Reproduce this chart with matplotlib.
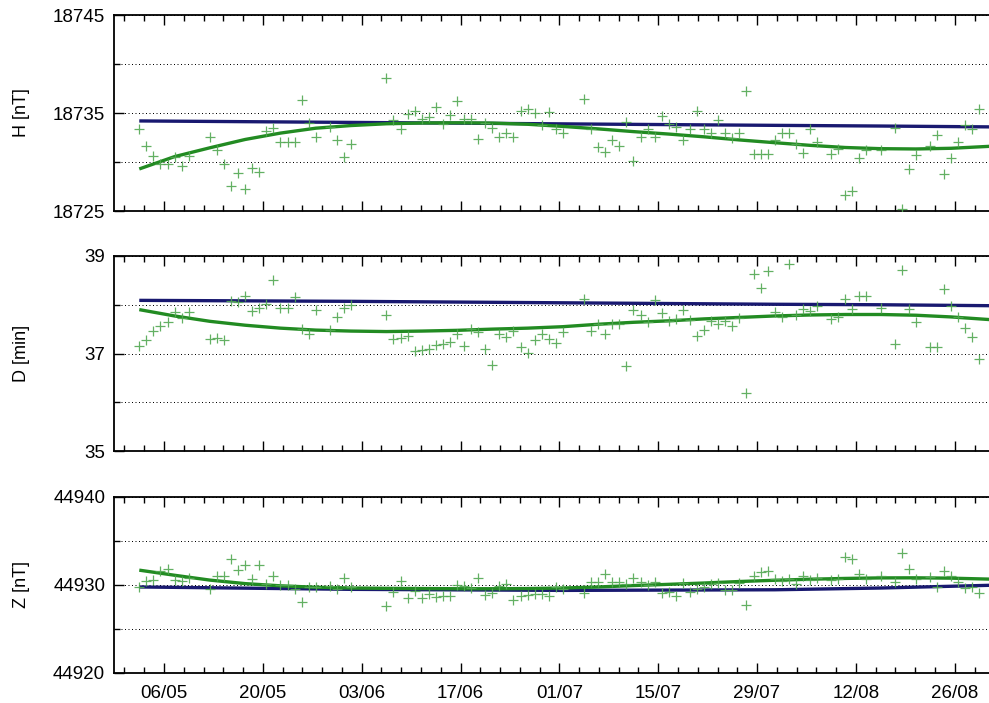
import numpy as np
import pandas as pd
import matplotlib
matplotlib.use("Agg")
import matplotlib.pyplot as plt
import matplotlib.dates as mdates
from matplotlib.ticker import FixedLocator, NullFormatter

plt.rcParams['font.family'] = ['Liberation Sans', 'DejaVu Sans']

# ---------------- data ----------------
obs_dates = [
    "2013-05-02", "2013-05-03", "2013-05-04", "2013-05-05", "2013-05-06", "2013-05-07", "2013-05-08", "2013-05-09",
    "2013-05-12", "2013-05-13", "2013-05-14", "2013-05-15", "2013-05-16", "2013-05-17", "2013-05-18", "2013-05-19",
    "2013-05-20", "2013-05-21", "2013-05-22", "2013-05-23", "2013-05-24", "2013-05-25", "2013-05-26", "2013-05-27",
    "2013-05-29", "2013-05-30", "2013-05-31", "2013-06-01",
    "2013-06-06", "2013-06-07", "2013-06-08", "2013-06-09", "2013-06-10", "2013-06-11", "2013-06-12", "2013-06-13",
    "2013-06-14", "2013-06-15", "2013-06-16", "2013-06-17", "2013-06-18", "2013-06-19", "2013-06-20", "2013-06-21",
    "2013-06-22", "2013-06-23", "2013-06-24", "2013-06-25", "2013-06-26", "2013-06-27", "2013-06-28", "2013-06-29",
    "2013-06-30", "2013-07-01",
    "2013-07-04", "2013-07-05", "2013-07-06", "2013-07-07", "2013-07-08", "2013-07-09", "2013-07-10", "2013-07-11",
    "2013-07-12", "2013-07-13", "2013-07-14", "2013-07-15", "2013-07-16", "2013-07-17", "2013-07-18", "2013-07-19",
    "2013-07-20", "2013-07-21", "2013-07-22", "2013-07-23", "2013-07-24", "2013-07-25", "2013-07-26", "2013-07-27",
    "2013-07-28", "2013-07-29", "2013-07-30", "2013-07-31", "2013-08-01", "2013-08-02", "2013-08-03", "2013-08-04",
    "2013-08-05", "2013-08-06",
    "2013-08-08", "2013-08-09", "2013-08-10", "2013-08-11", "2013-08-12", "2013-08-13",
    "2013-08-15",
    "2013-08-17", "2013-08-18", "2013-08-19", "2013-08-20",
    "2013-08-22", "2013-08-23", "2013-08-24", "2013-08-25", "2013-08-26", "2013-08-27", "2013-08-28", "2013-08-29",
]

H_obs = [
    18733.34, 18731.66, 18730.64, 18729.83, 18729.83, 18730.51, 18729.56, 18730.57,
    18732.60, 18731.18, 18729.83, 18727.60, 18728.89, 18727.26, 18729.43, 18728.95,
    18733.21, 18733.48, 18732.00, 18732.00, 18732.00, 18736.32, 18733.95, 18732.53,
    18733.60, 18732.20, 18730.51, 18731.79,
    18738.61, 18734.29, 18733.34, 18734.90, 18735.24, 18734.43, 18734.63, 18735.57,
    18733.89, 18734.76, 18736.25, 18734.36, 18734.43, 18732.33, 18734.02, 18733.48,
    18732.53, 18732.94, 18732.53, 18735.17, 18735.44, 18735.03, 18733.75, 18735.10,
    18733.34, 18732.94,
    18736.39, 18733.41, 18731.52, 18730.98, 18732.26, 18731.66, 18734.09, 18730.10,
    18732.53, 18733.34, 18732.60, 18734.70, 18733.89, 18733.61, 18732.26, 18733.34,
    18735.24, 18733.34, 18733.00, 18734.29, 18732.94, 18732.40, 18733.00, 18737.20,
    18730.84, 18730.84, 18730.84, 18732.20, 18732.94, 18732.94, 18731.79, 18730.91,
    18733.34, 18732.00,
    18730.78, 18731.32, 18726.66, 18727.06, 18730.44, 18731.25,
    18731.25,
    18733.48, 18725.17, 18729.29, 18730.71,
    18731.66, 18732.80, 18728.75, 18730.44, 18732.00, 18733.75, 18733.41, 18735.44,
]

D_obs = [
    37.16, 37.28, 37.47, 37.57, 37.64, 37.86, 37.72, 37.86,
    37.29, 37.32, 37.28, 38.07, 38.05, 38.18, 37.87, 37.94,
    38.01, 38.51, 37.94, 37.94, 38.16, 37.51, 37.41, 37.89,
    37.48, 37.74, 37.94, 37.99,
    37.80, 37.29, 37.32, 37.36, 37.05, 37.07, 37.10, 37.17,
    37.20, 37.24, 37.39, 37.16, 37.51, 37.44, 37.10, 36.76,
    37.40, 37.34, 37.47, 37.14, 37.02, 37.28, 37.41, 37.30,
    37.21, 37.45,
    38.11, 37.47, 37.60, 37.41, 37.60, 37.60, 36.74, 37.89,
    37.78, 37.64, 38.10, 37.83, 37.67, 37.71, 37.90, 37.68,
    37.36, 37.48, 37.67, 37.60, 37.66, 37.57, 37.72, 36.18,
    38.64, 38.34, 38.70, 37.86, 37.74, 38.84, 37.80, 37.91,
    37.87, 37.97,
    37.70, 37.75, 38.11, 37.91, 38.17, 38.17,
    37.94,
    37.20, 38.72, 37.91, 37.64,
    37.14, 37.13, 38.33, 37.98, 37.75, 37.53, 37.33, 36.89,
]

Z_obs = [
    44929.66, 44930.42, 44930.49, 44931.55, 44931.78, 44930.49, 44930.42, 44930.72,
    44929.51, 44930.95, 44930.95, 44932.92, 44931.63, 44932.23, 44930.57, 44932.23,
    44930.04, 44930.95, 44929.89, 44929.96, 44929.51, 44928.00, 44929.73, 44929.73,
    44929.80, 44929.51, 44930.72, 44929.73,
    44927.61, 44929.20, 44930.42, 44928.52, 44929.28, 44928.52, 44928.90, 44928.60,
    44928.67, 44928.67, 44929.96, 44929.81, 44929.58, 44930.72, 44928.83, 44928.98,
    44929.81, 44930.11, 44928.22, 44928.67, 44928.83, 44928.90, 44928.90, 44928.67,
    44929.66, 44929.51,
    44928.98, 44930.27, 44930.27, 44931.25, 44930.27, 44930.34, 44930.04, 44930.72,
    44930.27, 44929.96, 44930.27, 44928.98, 44929.20, 44928.67, 44930.19, 44929.13,
    44929.51, 44929.66, 44930.04, 44930.19, 44929.43, 44929.43, 44930.19, 44927.69,
    44930.95, 44931.40, 44931.55, 44930.64, 44930.42, 44930.64, 44930.04, 44930.95,
    44930.49, 44930.72,
    44930.49, 44930.57, 44933.14, 44932.92, 44931.17, 44930.64,
    44930.95,
    44930.27, 44933.60, 44931.78, 44930.64,
    44930.80, 44929.66, 44931.55, 44931.02, 44930.27, 44929.58, 44929.73, 44928.98,
]

# smooth fitted curve (green), read at ~5-day steps
fit_dates = [
    "2013-05-02", "2013-05-07", "2013-05-12", "2013-05-17", "2013-05-22", "2013-05-27",
    "2013-06-01", "2013-06-06", "2013-06-11", "2013-06-16", "2013-06-21", "2013-06-26",
    "2013-07-01", "2013-07-06", "2013-07-11", "2013-07-16", "2013-07-21", "2013-07-26",
    "2013-07-31", "2013-08-05", "2013-08-10", "2013-08-15", "2013-08-20", "2013-08-25",
    "2013-08-31",
]
H_fit = [18729.29, 18730.55, 18731.45, 18732.30, 18732.95, 18733.45, 18733.72, 18733.90,
         18733.98, 18734.00, 18733.97, 18733.85, 18733.63, 18733.38, 18733.10, 18732.85,
         18732.57, 18732.25, 18731.97, 18731.70, 18731.48, 18731.36, 18731.33, 18731.40,
         18731.62]
D_fit = [37.90, 37.77, 37.66, 37.58, 37.52, 37.48, 37.46, 37.45, 37.46, 37.475, 37.50, 37.52,
         37.55, 37.60, 37.64, 37.67, 37.71, 37.74, 37.77, 37.79, 37.80, 37.80, 37.785, 37.75,
         37.69]
Z_fit = [44931.63, 44931.05, 44930.50, 44930.10, 44929.85, 44929.69, 44929.60, 44929.56,
         44929.54, 44929.52, 44929.52, 44929.54, 44929.60, 44929.72, 44929.88, 44930.02,
         44930.17, 44930.34, 44930.48, 44930.60, 44930.69, 44930.75, 44930.76, 44930.72,
         44930.60]

# reference (blue) line
ref_dates = ["2013-05-02", "2013-06-01", "2013-07-01", "2013-07-31", "2013-08-15", "2013-08-31"]
H_ref = [18734.19, 18734.04, 18733.89, 18733.74, 18733.67, 18733.58]
D_ref = [38.09, 38.07, 38.04, 38.01, 38.00, 37.98]
Z_ref = [44929.72, 44929.45, 44929.33, 44929.40, 44929.60, 44929.92]

# axis ticks: labelled values and the grid-only values between them
H_ticks, H_minor = [18725, 18735, 18745], [18730, 18740]
D_ticks, D_minor = [35, 37, 39], [36, 38]
Z_ticks, Z_minor = [44920, 44930, 44940], [44925, 44935]

panels = [
    ("H [nT]", H_obs, H_fit, H_ref, H_ticks, H_minor),
    ("D [min]", D_obs, D_fit, D_ref, D_ticks, D_minor),
    ("Z [nT]", Z_obs, Z_fit, Z_ref, Z_ticks, Z_minor),
]

major_dates = ["2013-05-06", "2013-05-20", "2013-06-03", "2013-06-17", "2013-07-01",
               "2013-07-15", "2013-07-29", "2013-08-12", "2013-08-26"]

# ---------------- drawing ----------------
noon = pd.Timedelta(hours=12)
tx = pd.to_datetime(obs_dates) + noon
tf = pd.to_datetime(fit_dates) + noon
tr = pd.to_datetime(ref_dates) + noon

W, Hh = 989, 703
fig = plt.figure(figsize=(W / 100, Hh / 100), dpi=100)

left_px = 113.5
right_px = 997.1
boxes = [(15, 211), (256, 451), (496.5, 672.5)]

xmin = pd.Timestamp("2013-04-28 20:24")
xmax = pd.Timestamp("2013-09-01 00:00")

maj = mdates.date2num(pd.to_datetime(major_dates))
minor = mdates.date2num(pd.Timestamp("2013-05-06")) + 2.8 * np.arange(-6, 45)

pt_col = "#52a852"
fit_col = "#228b22"
ref_col = "#191970"
aw = right_px - left_px

for i, (lab, obs, fit, ref, yt, ytm) in enumerate(panels):
    top, bot = boxes[i]
    ax = fig.add_axes([left_px / W, (Hh - bot) / Hh, aw / W, (bot - top) / Hh])
    ax.plot(tr, ref, color=ref_col, lw=2.4, zorder=3, solid_capstyle='butt')
    ax.plot(tf, fit, color=fit_col, lw=2.4, zorder=4, solid_capstyle='butt')
    ax.plot(tx, obs, linestyle='none', marker='+', markersize=7.5, mew=0.9,
            color=pt_col, alpha=0.9, zorder=5)
    ax.set_xlim(xmin, xmax)
    ax.set_ylim(yt[0], yt[-1])
    ax.yaxis.set_major_locator(FixedLocator(yt))
    ax.yaxis.set_minor_locator(FixedLocator(ytm))
    ax.xaxis.set_major_locator(FixedLocator(maj))
    ax.xaxis.set_minor_locator(FixedLocator(minor))
    ax.xaxis.set_major_formatter(mdates.DateFormatter("%d/%m"))
    if i < 2:
        ax.xaxis.set_major_formatter(NullFormatter())
    ax.tick_params(which='both', direction='in', top=True, right=False, width=1.0, color='black')
    ax.tick_params(which='major', length=7, labelsize=13.5)
    ax.tick_params(which='minor', length=4)
    ax.tick_params(axis='y', which='major', pad=6)
    ax.tick_params(axis='x', which='major', pad=9)
    ax.grid(True, which='both', axis='y', color='black', lw=0.72, linestyle=(0, (1, 2.5)))
    for s in ax.spines.values():
        s.set_linewidth(1.3)
    fig.text(21 / W, 1 - ((top + bot) / 2) / Hh, lab, rotation=90, fontsize=13,
             ha='center', va='center')

fig.savefig("out.png", dpi=100)
